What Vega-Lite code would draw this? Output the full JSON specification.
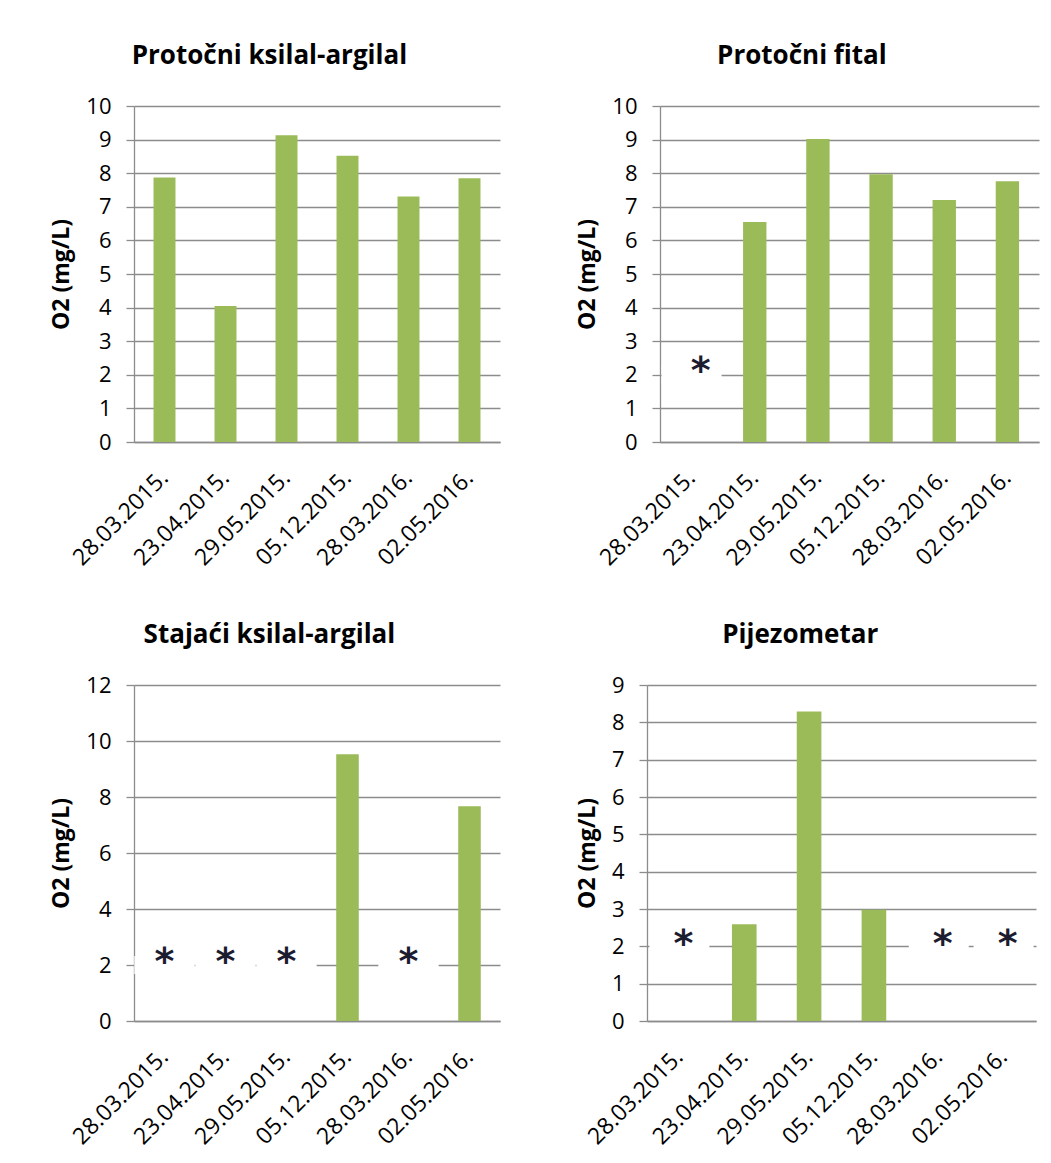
{
  "$schema": "https://vega.github.io/schema/vega-lite/v6.json",
  "background": "white",
  "padding": {"left": 50, "top": 43, "right": 4, "bottom": 12},
  "data": {
    "values": [
      {"panel": "Protočni ksilal-argilal", "date": "28.03.2015.", "O2": 7.87, "note": null},
      {"panel": "Protočni ksilal-argilal", "date": "23.04.2015.", "O2": 4.05, "note": null},
      {"panel": "Protočni ksilal-argilal", "date": "29.05.2015.", "O2": 9.13, "note": null},
      {"panel": "Protočni ksilal-argilal", "date": "05.12.2015.", "O2": 8.52, "note": null},
      {"panel": "Protočni ksilal-argilal", "date": "28.03.2016.", "O2": 7.31, "note": null},
      {"panel": "Protočni ksilal-argilal", "date": "02.05.2016.", "O2": 7.85, "note": null},
      {"panel": "Protočni fital", "date": "28.03.2015.", "O2": null, "note": "*"},
      {"panel": "Protočni fital", "date": "23.04.2015.", "O2": 6.55, "note": null},
      {"panel": "Protočni fital", "date": "29.05.2015.", "O2": 9.02, "note": null},
      {"panel": "Protočni fital", "date": "05.12.2015.", "O2": 7.97, "note": null},
      {"panel": "Protočni fital", "date": "28.03.2016.", "O2": 7.2, "note": null},
      {"panel": "Protočni fital", "date": "02.05.2016.", "O2": 7.76, "note": null},
      {"panel": "Stajaći ksilal-argilal", "date": "28.03.2015.", "O2": null, "note": "*"},
      {"panel": "Stajaći ksilal-argilal", "date": "23.04.2015.", "O2": null, "note": "*"},
      {"panel": "Stajaći ksilal-argilal", "date": "29.05.2015.", "O2": null, "note": "*"},
      {"panel": "Stajaći ksilal-argilal", "date": "05.12.2015.", "O2": 9.53, "note": null},
      {"panel": "Stajaći ksilal-argilal", "date": "28.03.2016.", "O2": null, "note": "*"},
      {"panel": "Stajaći ksilal-argilal", "date": "02.05.2016.", "O2": 7.67, "note": null},
      {"panel": "Pijezometar", "date": "28.03.2015.", "O2": null, "note": "*"},
      {"panel": "Pijezometar", "date": "23.04.2015.", "O2": 2.59, "note": null},
      {"panel": "Pijezometar", "date": "29.05.2015.", "O2": 8.29, "note": null},
      {"panel": "Pijezometar", "date": "05.12.2015.", "O2": 2.98, "note": null},
      {"panel": "Pijezometar", "date": "28.03.2016.", "O2": null, "note": "*"},
      {"panel": "Pijezometar", "date": "02.05.2016.", "O2": null, "note": "*"}
    ]
  },
  "spacing": 52,
  "vconcat": [
    {
      "spacing": 76,
      "hconcat": [
        {
          "width": 366, "height": 336,
          "title": "Protočni ksilal-argilal",
          "transform": [{"filter": "datum.panel === 'Protočni ksilal-argilal'"}],
          "encoding": {"x": {"field": "date", "type": "nominal", "sort": null, "scale": {"domain": ["28.03.2015.", "23.04.2015.", "29.05.2015.", "05.12.2015.", "28.03.2016.", "02.05.2016."], "paddingInner": 0.64, "paddingOuter": 0.32}}},
          "layer": [
            {"mark": "bar", "encoding": {"y": {"field": "O2", "type": "quantitative", "scale": {"domain": [0, 10], "nice": false}, "axis": {"title": "O2 (mg/L)", "values": [0, 1, 2, 3, 4, 5, 6, 7, 8, 9, 10]}}}}
          ]
        },
        {
          "width": 379, "height": 336,
          "title": "Protočni fital",
          "transform": [{"filter": "datum.panel === 'Protočni fital'"}],
          "encoding": {"x": {"field": "date", "type": "nominal", "sort": null, "scale": {"domain": ["28.03.2015.", "23.04.2015.", "29.05.2015.", "05.12.2015.", "28.03.2016.", "02.05.2016."], "paddingInner": 0.63, "paddingOuter": 0.315}}},
          "layer": [
            {"mark": "bar", "encoding": {"y": {"field": "O2", "type": "quantitative", "scale": {"domain": [0, 10], "nice": false}, "axis": {"title": "O2 (mg/L)", "values": [0, 1, 2, 3, 4, 5, 6, 7, 8, 9, 10]}}}},
            {"transform": [{"filter": "datum.note === '*'"}], "mark": {"type": "point", "shape": "M-1,-0.3H1V0.3H-1Z", "filled": true, "color": "white", "opacity": 1, "size": 3600}, "encoding": {"y": {"datum": 2, "type": "quantitative", "axis": {"title": "O2 (mg/L)", "values": [0, 1, 2, 3, 4, 5, 6, 7, 8, 9, 10]}}}},
            {"transform": [{"filter": "datum.note === '*'"}], "mark": {"type": "text", "font": "DejaVu Sans", "fontWeight": "bold", "fontSize": 38, "color": "#1c1c30", "baseline": "middle", "dx": 9, "dy": -3}, "encoding": {"y": {"datum": 2, "type": "quantitative", "axis": {"title": "O2 (mg/L)", "values": [0, 1, 2, 3, 4, 5, 6, 7, 8, 9, 10]}}, "text": {"field": "note"}}}
          ]
        }
      ]
    },
    {
      "spacing": 76,
      "hconcat": [
        {
          "width": 366, "height": 336,
          "title": "Stajaći ksilal-argilal",
          "transform": [{"filter": "datum.panel === 'Stajaći ksilal-argilal'"}],
          "encoding": {"x": {"field": "date", "type": "nominal", "sort": null, "scale": {"domain": ["28.03.2015.", "23.04.2015.", "29.05.2015.", "05.12.2015.", "28.03.2016.", "02.05.2016."], "paddingInner": 0.63, "paddingOuter": 0.315}}},
          "layer": [
            {"mark": "bar", "encoding": {"y": {"field": "O2", "type": "quantitative", "scale": {"domain": [0, 12], "nice": false}, "axis": {"title": "O2 (mg/L)", "values": [0, 2, 4, 6, 8, 10, 12]}}}},
            {"transform": [{"filter": "datum.note === '*'"}], "mark": {"type": "point", "shape": "M-1,-0.3H1V0.3H-1Z", "filled": true, "color": "white", "opacity": 1, "size": 3640}, "encoding": {"y": {"datum": 2, "type": "quantitative", "axis": {"title": "O2 (mg/L)", "values": [0, 2, 4, 6, 8, 10, 12]}}}},
            {"transform": [{"filter": "datum.note === '*'"}], "mark": {"type": "text", "font": "DejaVu Sans", "fontWeight": "bold", "fontSize": 38, "color": "#1c1c30", "baseline": "middle", "dy": -2}, "encoding": {"y": {"datum": 2, "type": "quantitative", "axis": {"title": "O2 (mg/L)", "values": [0, 2, 4, 6, 8, 10, 12]}}, "text": {"field": "note"}}}
          ]
        },
        {
          "width": 389, "height": 336,
          "title": "Pijezometar",
          "transform": [{"filter": "datum.panel === 'Pijezometar'"}],
          "encoding": {"x": {"field": "date", "type": "nominal", "sort": null, "scale": {"domain": ["28.03.2015.", "23.04.2015.", "29.05.2015.", "05.12.2015.", "28.03.2016.", "02.05.2016."], "paddingInner": 0.62, "paddingOuter": 0.31}}},
          "layer": [
            {"mark": "bar", "encoding": {"y": {"field": "O2", "type": "quantitative", "scale": {"domain": [0, 9], "nice": false}, "axis": {"title": "O2 (mg/L)", "values": [0, 1, 2, 3, 4, 5, 6, 7, 8, 9]}}}},
            {"transform": [{"filter": "datum.note === '*'"}], "mark": {"type": "point", "shape": "M-1,-0.3H1V0.3H-1Z", "filled": true, "color": "white", "opacity": 1, "size": 3600}, "encoding": {"y": {"datum": 2, "type": "quantitative", "axis": {"title": "O2 (mg/L)", "values": [0, 1, 2, 3, 4, 5, 6, 7, 8, 9]}}}},
            {"transform": [{"filter": "datum.note === '*'"}], "mark": {"type": "text", "font": "DejaVu Sans", "fontWeight": "bold", "fontSize": 38, "color": "#1c1c30", "baseline": "middle", "dx": 4, "dy": -1}, "encoding": {"y": {"datum": 2, "type": "quantitative", "axis": {"title": "O2 (mg/L)", "values": [0, 1, 2, 3, 4, 5, 6, 7, 8, 9]}}, "text": {"field": "note"}}}
          ]
        }
      ]
    }
  ],
  "config": {
    "font": "Open Sans",
    "view": {"stroke": null},
    "axis": {"labelFont": "Open Sans", "labelFontSize": 22, "labelColor": "#000000", "titleFont": "Open Sans", "titleFontSize": 23, "titleFontWeight": "bold", "titleColor": "#000000", "gridColor": "#8c8c8c", "gridWidth": 1.3, "domainColor": "#8c8c8c", "domainWidth": 1.3, "tickColor": "#8c8c8c", "tickWidth": 1.3},
    "axisY": {"tickSize": 8, "labelPadding": 15, "titlePadding": 12, "grid": true},
    "axisX": {"ticks": false, "grid": false, "labelAngle": -45, "labelAlign": "right", "labelBaseline": "middle", "labelPadding": 32, "labelFontSize": 23, "title": null},
    "title": {"font": "Open Sans", "fontSize": 26, "fontWeight": "bold", "color": "#000000", "offset": 26, "frame": "bounds", "dx": -6},
    "bar": {"color": "#9BBB59"}
  }
}
